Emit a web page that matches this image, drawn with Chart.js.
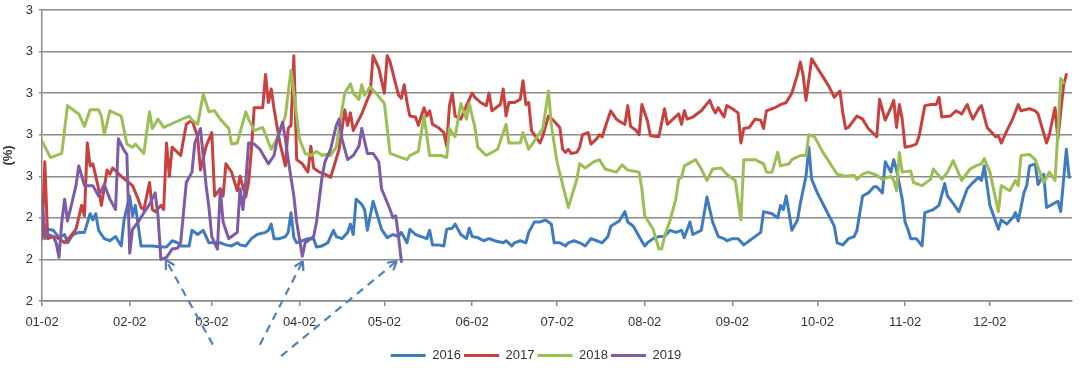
<!DOCTYPE html>
<html>
<head>
<meta charset="utf-8">
<script src="https://cdn.jsdelivr.net/npm/chart.js@4.4.1/dist/chart.umd.min.js"></script>
<style>
  html, body { margin: 0; padding: 0; background: #fff; }
</style>
</head>
<body>
<canvas id="chart" width="1080" height="368"></canvas>
<script>
// x = days since 01-02, y = rate (%)
const monthDays = [0, 31, 60, 91, 121, 152, 182, 213, 244, 274, 305, 335];
const monthLabels = ["01-02", "02-02", "03-02", "04-02", "05-02", "06-02", "07-02", "08-02", "09-02", "10-02", "11-02", "12-02"];
const seriesNames = ["2016", "2017", "2018", "2019"];

const days2016 = [0,1,2,4,6,8,9,11,13,15,17,18,19,20,22,24,26,28,29,31,32,33,35,36,39,42,44,46,48,49,52,53,55,57,59,61,63,65,67,69,
  70,72,74,76,79,80,81,82,84,86,87,88,89,90,92,94,96,97,99,101,103,104,106,108,109,110,111,113,114,115,117,119,120,122,124,126,127,129,130,132,
  134,136,137,138,140,142,143,145,146,148,150,151,152,154,156,158,160,163,164,166,167,169,171,172,174,176,178,180,181,183,185,186,188,190,192,194,196,198,200,201,
  204,206,207,209,211,213,214,216,218,220,222,224,226,227,229,230,233,235,237,239,241,242,244,246,248,250,251,254,255,258,260,261,262,263,264,265,267,268,270,271,
  272,274,277,280,281,283,285,287,288,290,292,294,295,297,298,300,301,302,304,305,306,307,309,311,312,315,317,319,320,322,324,327,329,331,332,333,335,338,339,341,
  343,344,345,347,348,349,351,352,354,355,357,359,360,362,363];
const vals2016 = [2.47,2.30,2.345,2.34,2.305,2.32,2.28,2.32,2.33,2.33,2.42,2.39,2.42,2.34,2.30,2.29,2.31,2.265,2.39,2.505,2.41,2.46,2.265,2.265,2.265,2.26,2.26,2.29,2.28,2.265,2.265,2.34,2.32,2.34,2.28,2.28,2.28,2.27,2.265,2.28,
  2.27,2.265,2.30,2.32,2.33,2.34,2.37,2.30,2.30,2.31,2.33,2.425,2.305,2.28,2.29,2.30,2.30,2.26,2.265,2.28,2.34,2.31,2.30,2.33,2.37,2.32,2.49,2.465,2.44,2.34,2.48,2.39,2.345,2.305,2.32,2.31,2.33,2.28,2.345,2.32,
  2.31,2.30,2.34,2.27,2.27,2.265,2.345,2.35,2.37,2.32,2.30,2.35,2.31,2.305,2.29,2.30,2.29,2.28,2.29,2.265,2.28,2.29,2.28,2.33,2.38,2.38,2.39,2.37,2.28,2.28,2.265,2.28,2.29,2.28,2.265,2.30,2.29,2.28,2.31,2.36,
  2.385,2.43,2.38,2.36,2.31,2.265,2.28,2.30,2.31,2.31,2.34,2.33,2.34,2.305,2.38,2.32,2.34,2.50,2.38,2.31,2.30,2.29,2.30,2.30,2.27,2.29,2.30,2.33,2.43,2.42,2.40,2.46,2.44,2.505,2.425,2.34,2.39,2.47,2.60,2.74,
  2.585,2.52,2.44,2.36,2.28,2.27,2.30,2.31,2.34,2.505,2.52,2.55,2.55,2.52,2.67,2.62,2.68,2.63,2.49,2.38,2.345,2.30,2.30,2.265,2.425,2.44,2.46,2.565,2.505,2.47,2.43,2.54,2.57,2.595,2.58,2.65,2.46,2.345,2.39,2.37,
  2.40,2.425,2.385,2.52,2.555,2.65,2.66,2.56,2.61,2.45,2.465,2.48,2.43,2.73,2.595];

const days2017 = [0,1,2,4,6,8,10,12,14,15,16,17,18,20,21,23,24,25,28,32,34,35,36,38,39,40,42,43,44,45,46,49,51,53,55,56,58,60,61,63,
  64,65,67,69,70,72,73,74,75,78,79,80,81,82,84,86,87,88,89,90,92,94,95,96,98,100,102,103,105,107,108,109,110,113,115,116,117,119,121,122,
  123,126,127,128,129,130,132,133,135,136,137,138,140,142,143,144,145,146,148,150,152,153,155,157,158,159,162,163,164,165,167,169,170,171,172,173,176,177,179,181,
  183,184,185,186,187,189,190,191,193,194,196,197,198,199,201,203,204,206,207,208,210,211,212,214,215,218,220,221,223,225,226,227,228,230,233,236,237,238,239,241,
  242,244,246,247,248,250,252,254,255,256,258,259,261,263,265,267,268,269,270,272,275,278,280,282,283,284,285,288,290,292,295,296,298,300,301,302,303,304,305,307,
  309,310,312,314,316,317,318,321,323,325,327,328,329,331,332,334,337,338,339,341,343,345,346,349,351,352,355,356,358,359,361,362];
const vals2017 = [2.30,2.67,2.30,2.31,2.30,2.28,2.31,2.345,2.46,2.41,2.76,2.65,2.66,2.54,2.46,2.63,2.61,2.64,2.60,2.555,2.49,2.45,2.44,2.57,2.44,2.43,2.46,2.44,2.76,2.60,2.74,2.70,2.85,2.87,2.79,2.63,2.745,2.81,2.505,2.54,
  2.505,2.66,2.62,2.53,2.60,2.50,2.57,2.73,2.93,2.93,3.09,2.955,3.02,2.925,2.765,2.65,2.83,2.845,3.18,2.68,2.66,2.62,2.745,2.64,2.62,2.61,2.595,2.64,2.73,2.92,2.845,2.905,2.82,2.90,2.97,3.00,3.18,3.12,3.00,3.18,
  3.15,2.99,2.975,3.04,2.955,2.89,2.885,2.845,2.93,2.89,2.915,2.85,2.835,2.81,2.745,2.94,3.00,2.89,2.875,2.94,3.00,2.98,2.955,2.94,3.00,2.915,2.945,3.02,2.89,2.955,2.955,2.97,3.06,2.945,2.955,2.82,2.76,2.795,2.89,2.865,
  2.835,2.73,2.715,2.73,2.71,2.715,2.74,2.80,2.81,2.755,2.78,2.80,2.79,2.835,2.915,2.875,2.865,2.85,2.94,2.84,2.82,2.80,2.945,2.865,2.795,2.79,2.925,2.85,2.875,2.90,2.85,2.915,2.875,2.885,2.915,2.965,2.93,2.905,2.93,2.885,
  2.94,2.925,2.905,2.76,2.83,2.835,2.875,2.87,2.83,2.915,2.925,2.93,2.945,2.955,3.00,3.09,3.15,3.085,2.965,3.165,3.10,3.035,2.98,3.01,2.905,2.83,2.835,2.89,2.875,2.83,2.79,2.97,2.87,2.93,2.965,2.835,2.945,2.875,2.74,2.745,
  2.755,2.795,2.94,2.945,2.945,2.98,2.885,2.89,2.915,2.90,2.945,2.905,2.875,2.925,2.94,2.835,2.79,2.795,2.76,2.82,2.875,2.945,2.915,2.925,2.915,2.90,2.76,2.80,2.93,2.78,3.035,3.09];

const days2018 = [0,3,7,9,13,15,17,20,21,22,24,28,30,32,33,36,38,39,41,43,47,52,53,55,57,59,61,63,66,67,69,72,73,75,78,81,83,86,88,90,
  91,93,95,97,99,100,102,104,106,107,109,110,112,113,114,116,118,121,123,127,129,130,133,135,137,140,141,143,144,146,148,150,151,153,154,157,161,164,165,169,
  170,172,175,177,179,180,182,186,189,190,192,195,197,199,203,205,207,211,212,213,216,218,219,220,222,224,225,226,227,231,233,235,237,240,242,245,247,248,252,255,
  256,258,260,261,264,265,268,270,271,273,276,281,284,287,288,290,292,295,297,300,301,302,303,304,307,308,311,314,315,318,320,322,325,328,330,332,333,335,336,338,
  339,342,344,345,346,349,351,354,356,358,359,360,361];
const vals2018 = [2.77,2.69,2.71,2.94,2.90,2.84,2.92,2.92,2.89,2.80,2.915,2.89,2.755,2.74,2.755,2.71,2.91,2.83,2.875,2.835,2.86,2.89,2.87,2.85,2.995,2.91,2.915,2.875,2.83,2.755,2.76,2.91,2.875,2.82,2.835,2.73,2.78,2.89,3.11,2.89,
  2.78,2.71,2.70,2.72,2.70,2.705,2.70,2.74,2.92,3.00,3.045,3.00,2.97,3.04,2.99,3.03,3.00,2.95,2.71,2.69,2.68,2.70,2.72,2.89,2.70,2.70,2.70,2.69,2.83,2.79,2.95,2.875,2.95,2.835,2.74,2.70,2.73,2.85,2.76,2.76,
  2.81,2.73,2.79,2.83,3.01,2.845,2.67,2.45,2.585,2.66,2.64,2.67,2.68,2.635,2.62,2.655,2.63,2.62,2.54,2.41,2.345,2.25,2.25,2.31,2.39,2.49,2.585,2.595,2.65,2.68,2.635,2.58,2.635,2.64,2.61,2.58,2.39,2.68,2.68,2.66,
  2.62,2.62,2.715,2.65,2.66,2.68,2.70,2.70,2.80,2.79,2.715,2.61,2.60,2.605,2.585,2.61,2.62,2.605,2.585,2.60,2.58,2.53,2.715,2.62,2.625,2.57,2.555,2.585,2.635,2.585,2.62,2.675,2.58,2.635,2.65,2.66,2.685,2.62,2.555,2.43,
  2.555,2.53,2.58,2.555,2.70,2.705,2.68,2.57,2.62,2.58,2.81,3.07,3.05];

const days2019 = [0,1,2,4,5,6,7,8,9,10,12,13,15,16,18,20,22,24,26,27,29,30,31,32,34,36,38,40,41,42,44,46,48,49,51,53,54,56,58,59,
  60,62,63,64,66,67,69,70,71,72,73,75,77,80,82,83,85,86,87,89,90,92,93,94,96,97,99,100,102,104,105,106,108,110,112,113,115,117,119,120,
  123,124,125,126,127];
const vals2019 = [2.47,2.335,2.32,2.31,2.28,2.21,2.38,2.49,2.385,2.44,2.555,2.65,2.555,2.555,2.555,2.505,2.56,2.49,2.44,2.78,2.725,2.705,2.23,2.345,2.38,2.425,2.465,2.52,2.41,2.20,2.21,2.25,2.255,2.28,2.57,2.62,2.76,2.83,2.555,2.45,
  2.31,2.25,2.54,2.38,2.30,2.31,2.33,2.54,2.44,2.57,2.76,2.755,2.73,2.66,2.70,2.77,2.86,2.78,2.68,2.505,2.38,2.215,2.28,2.29,2.31,2.38,2.60,2.67,2.73,2.845,2.875,2.78,2.68,2.70,2.745,2.83,2.71,2.71,2.67,2.54,
  2.44,2.40,2.41,2.31,2.19];

// dashed call-out arrows, [day, value] of tail and tip
const arrowTails = [[60.4, 1.79], [77.0, 1.79], [84.5, 1.735]];
const arrowTips = [[43.8, 2.197], [92.2, 2.192], [125.4, 2.192]];

const colors = ["#3f7cbf", "#c8413f", "#9bbf55", "#7d5ba6"];
const allDays = [days2016, days2017, days2018, days2019];
const allVals = [vals2016, vals2017, vals2018, vals2019];

const arrowPlugin = {
  id: "arrows",
  afterDraw(chart) {
    const { ctx, scales: { x, y } } = chart;
    ctx.save();
    ctx.strokeStyle = "#4f81bd";
    ctx.lineWidth = 2.2;
    arrowTips.forEach((tip, i) => {
      const x1 = x.getPixelForValue(arrowTails[i][0]), y1 = y.getPixelForValue(arrowTails[i][1]);
      const x2 = x.getPixelForValue(tip[0]), y2 = y.getPixelForValue(tip[1]);
      ctx.setLineDash([8, 6]);
      ctx.beginPath();
      ctx.moveTo(x1, y1);
      ctx.lineTo(x2, y2);
      ctx.stroke();
      const a = Math.atan2(y1 - y2, x1 - x2);
      ctx.setLineDash([]);
      ctx.beginPath();
      [-0.52, 0.52].forEach(d => {
        ctx.moveTo(x2, y2);
        ctx.lineTo(x2 + 10 * Math.cos(a + d), y2 + 10 * Math.sin(a + d));
      });
      ctx.stroke();
    });
    ctx.restore();
  }
};

const font = { family: "'Liberation Sans', Arial, sans-serif", size: 13 };

new Chart(document.getElementById("chart"), {
  type: "line",
  data: {
    datasets: seriesNames.map((name, i) => ({
      label: name,
      data: allDays[i].map((d, j) => ({ x: d, y: allVals[i][j] })),
      borderColor: colors[i],
      backgroundColor: colors[i],
      borderWidth: 3,
      pointRadius: 0,
      pointStyle: "line",
      tension: 0,
      borderJoinStyle: "round",
      borderCapStyle: "round",
      order: 4 - i
    }))
  },
  options: {
    responsive: false,
    animation: false,
    layout: { padding: { top: 10, right: 8, left: 0, bottom: -4 } },
    plugins: {
      tooltip: { enabled: false },
      legend: {
        position: "bottom",
        labels: {
          usePointStyle: true,
          pointStyleWidth: 35,
          boxHeight: 13,
          padding: 3,
          color: "#333",
          font: font,
          sort: (a, b) => a.datasetIndex - b.datasetIndex
        }
      }
    },
    scales: {
      x: {
        type: "linear",
        min: 0,
        max: 364,
        afterBuildTicks: s => { s.ticks = monthDays.map(v => ({ value: v })); },
        afterFit: s => { s.height = 45; },
        ticks: {
          autoSkip: false,
          maxRotation: 0,
          padding: 9,
          color: "#333",
          font: font,
          callback: v => monthLabels[monthDays.indexOf(v)]
        },
        grid: { drawOnChartArea: false, drawTicks: true, tickLength: 5, color: "#8a8a8a", lineWidth: 1.5 },
        border: { color: "#8a8a8a", width: 1.5 }
      },
      y: {
        min: 2.0,
        max: 3.4,
        afterFit: s => { s.width = 42; s.paddingTop = 0; s.paddingBottom = 0; },
        ticks: {
          stepSize: 0.2,
          padding: 6,
          color: "#333",
          font: font,
          callback: v => Math.round(v)
        },
        grid: { color: "#8a8a8a", lineWidth: 1.5, tickLength: 3 },
        border: { color: "#8a8a8a", width: 1.5 },
        title: {
          display: true,
          text: "(%)",
          color: "#333",
          font: { family: font.family, size: 13, weight: "bold" },
          padding: { top: 1, bottom: 0 }
        }
      }
    }
  },
  plugins: [arrowPlugin]
});
</script>
</body>
</html>
